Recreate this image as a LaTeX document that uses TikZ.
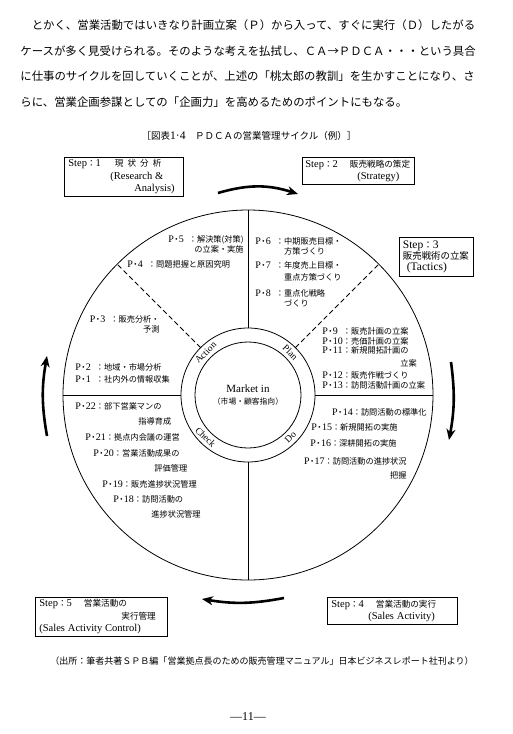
\documentclass[tikz,border=0pt]{standalone}
\usepackage{fontspec}
\setmainfont[Scale=0.82]{Noto Sans CJK JP}
\newfontfamily\enfont{Liberation Serif}
\usetikzlibrary{arrows.meta,calc}

\newcommand{\fsz}[2]{\fontsize{#1}{#2}\selectfont}
\newcommand{\pnum}[1]{{\enfont P}\makebox[5pt][c]{・}\makebox[10pt][l]{\enfont #1}：}

\begin{document}
\begin{tikzpicture}[x=1pt, y=-1pt, line width=0.8pt,
  stepbox/.style={draw, inner xsep=4pt, inner ysep=2pt, align=left, anchor=north west, font=\fsz{10.5}{12.5}},
  item/.style={inner sep=0pt, font=\fsz{10}{10.5}},
  phase/.style={inner sep=0pt, font=\enfont\fsz{9.5}{10}},
  textline/.style={anchor=west, inner sep=0pt, font=\fsz{13.9}{14}},
  disc/.style={circle, draw, inner sep=0pt, outer sep=0pt},
  cyc/.style={line width=2.6pt, -{Stealth[length=11pt,width=9pt]}}]

  \fill[white] (0,0) rectangle (512,734);
  \useasboundingbox (0,0) rectangle (512,734);

  % Running text
  \node[textline] (line1) at (20,25.5) {　とかく、営業活動ではいきなり計画立案（Ｐ）から入って、すぐに実行（Ｄ）したがる};
  \node[textline] (line2) at (20,51) {ケースが多く見受けられる。そのような考えを払拭し、ＣＡ→ＰＤＣＡ・・・という具合};
  \node[textline] (line3) at (20,76.5) {に仕事のサイクルを回していくことが、上述の「桃太郎の教訓」を生かすことになり、さ};
  \node[textline] (line4) at (20,102) {らに、営業企画参謀としての「企画力」を高めるためのポイントにもなる。};

  % Caption
  \node[font=\fsz{11.6}{12}] (caption) at (249,136) {［図表{\enfont 1·4}　ＰＤＣＡの営業管理サイクル（例）］};

  % Cycle wheel
  \node[disc, minimum size=370pt] (wheel) at (248,395) {};
  \node[disc, minimum size=134pt] (ring) at (248,395) {};
  \node[disc, minimum size=106pt] (core) at (248,395) {};
  \node[align=center, inner sep=0pt, font=\fsz{9.5}{12}] (hub) at (core.center)
    {{\enfont\fsz{11}{12}Market in}\\（市場・顧客指向）};

  \draw (wheel.north) -- (ring.north);
  \draw (wheel.south) -- (ring.south);
  \draw (wheel.west) -- (ring.west);
  \draw (wheel.east) -- (ring.east);
  \draw[dash pattern=on 5pt off 3pt] (ring.north west) -- (wheel.north west);
  \draw[dash pattern=on 5pt off 3pt] (ring.north east) -- (wheel.north east);

  % Ring labels
  \node[phase, rotate=45] (action) at ($(core.north west)!0.5!(ring.north west)$) {Action};
  \node[phase, rotate=-45] (plan) at ($(core.north east)!0.5!(ring.north east)$) {Plan};
  \node[phase, rotate=45] (do) at ($(core.south east)!0.5!(ring.south east)$) {Do};
  \node[phase, rotate=-45] (check) at ($(core.south west)!0.5!(ring.south west)$) {Check};

  % Action
  \node[item, align=right, anchor=north east] (p5) at (244,235) {\pnum{5}解決策(対策)\\の立案・実施};
  \node[item, anchor=west] (p4) at (127,264) {\pnum{4}問題把握と原因究明};
  \node[item, align=right, anchor=north east] (p3) at (160,315) {\pnum{3}販売分析・\\予測};
  \node[item, anchor=west] (p2) at (75,367) {\pnum{2}地域・市場分析};
  \node[item, anchor=west] (p1) at (75,379) {\pnum{1}社内外の情報収集};

  % Plan
  \node[item, align=left, anchor=north west] (p6) at (255,237) {\pnum{6}中期販売目標・\\\phantom{\pnum{6}}方策づくり};
  \node[item, align=left, anchor=north west] (p7) at (255,261) {\pnum{7}年度売上目標・\\[1.5pt]\phantom{\pnum{7}}重点方策づくり};
  \node[item, align=left, anchor=north west] (p8) at (255,289) {\pnum{8}重点化戦略\\\phantom{\pnum{8}}づくり};
  \node[item, anchor=west] (p9) at (322,331) {\pnum{9}販売計画の立案};
  \node[item, anchor=west] (p10) at (322,341) {\pnum{10}売価計画の立案};
  \node[item, align=left, anchor=north west] (p11) at (322,346) {\pnum{11}新規開拓計画の\\[2.5pt]\hspace*{78pt}立案};
  \node[item, anchor=west] (p12) at (322,375) {\pnum{12}販売作戦づくり};
  \node[item, anchor=west] (p13) at (322,385) {\pnum{13}訪問活動計画の立案};

  % Do
  \node[item, anchor=east] (p14) at (427,412) {\pnum{14}訪問活動の標準化};
  \node[item, anchor=east] (p15) at (398,427) {\pnum{15}新規開拓の実施};
  \node[item, anchor=east] (p16) at (397,443) {\pnum{16}深耕開拓の実施};
  \node[item, align=right, anchor=north east] (p17) at (407,457) {\pnum{17}訪問活動の進捗状況\\[3.5pt]把握};

  % Check
  \node[item, align=left, anchor=north west] (p22) at (75,402) {\pnum{22}部下営業マンの\\[4.5pt]\hspace*{63pt}指導育成};
  \node[item, anchor=west] (p21) at (85,437) {\pnum{21}拠点内会議の運営};
  \node[item, align=left, anchor=north west] (p20) at (93,449) {\pnum{20}営業活動成果の\\[4.5pt]\hspace*{61pt}評価管理};
  \node[item, anchor=west] (p19) at (102,484) {\pnum{19}販売進捗状況管理};
  \node[item, align=left, anchor=north west] (p18) at (113,495) {\pnum{18}訪問活動の\\[4.5pt]\hspace*{38pt}進捗状況管理};

  % Steps
  \node[stepbox, text width=111pt, minimum height=39pt] (step1) at (64,157)
    {{\enfont Step}：{\enfont 1}\hspace*{14pt}現\hspace{4pt}状\hspace{4pt}分\hspace{4pt}析\\
     \hspace*{42pt}{\enfont (Research \&}\\
     \hspace*{66pt}{\enfont Analysis)}};
  \node[stepbox, inner xsep=3pt, text width=106pt, minimum height=27pt] (step2) at (302,157)
    {{\enfont Step}：{\enfont 2}\hspace*{12pt}販売戦略の策定\\
     \hspace*{52pt}{\enfont (Strategy)}};
  \node[stepbox, inner xsep=3.5pt, text width=67pt, minimum height=39pt, font=\fsz{11.5}{11}] (step3) at (399,237)
    {{\enfont Step}：{\enfont 3}\\
     販売戦術の立案\\
     \hspace*{4pt}{\enfont (Tactics)}};
  \node[stepbox, text width=122pt, minimum height=27pt] (step4) at (327,597)
    {{\enfont Step}：{\enfont 4}\hspace*{12pt}営業活動の実行\\
     \hspace*{37pt}{\enfont (Sales Activity)}};
  \node[stepbox, text width=124pt, minimum height=39pt] (step5) at (35,597)
    {{\enfont Step}：{\enfont 5}\hspace*{12pt}営業活動の\\
     \hspace*{82pt}実行管理\\
     {\enfont (Sales Activity Control)}};

  % Cycle arrows
  \coordinate (topA) at (218,193);
  \coordinate (topB) at (298,194);
  \coordinate (rightA) at (451,362);
  \coordinate (rightB) at (449,440);
  \coordinate (botA) at (284,598);
  \coordinate (botB) at (202,599);
  \coordinate (leftA) at (47,436);
  \coordinate (leftB) at (47,356);
  \draw[cyc] (topA) to[bend left=17] (topB);
  \draw[cyc] (rightA) to[bend left=9] (rightB);
  \draw[cyc] (botA) to[bend left=10] (botB);
  \draw[cyc] (leftA) to[bend left=10] (leftB);

  % Source and folio
  \node[font=\fsz{11}{12}] (source) at (262,661) {（出所：筆者共著ＳＰＢ編「営業拠点長のための販売管理マニュアル」日本ビジネスレポート社刊より）};
  \node[font=\enfont\fsz{12}{12}] (folio) at (248,717) {—11—};
\end{tikzpicture}
\end{document}
